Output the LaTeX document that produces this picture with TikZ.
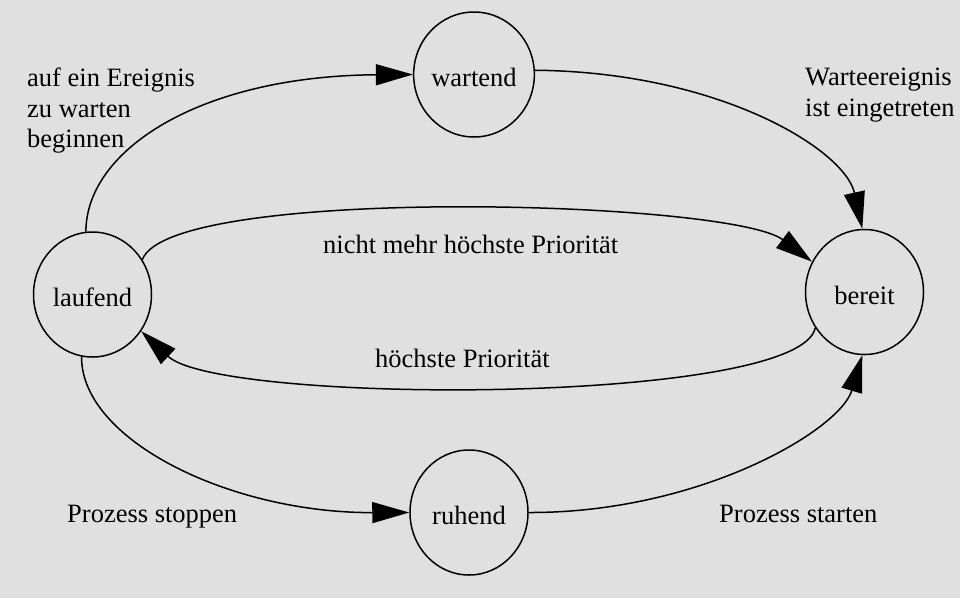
\documentclass[tikz,border=0pt]{standalone}
\usepackage{fontspec}
\setmainfont{Liberation Serif}
\usetikzlibrary{arrows.meta,shapes.geometric}
\definecolor{bg}{RGB}{224,224,224}
\begin{document}
\begin{tikzpicture}[x=1pt,y=-1pt,
  state/.style={ellipse, draw, line width=1.5pt, minimum width=118pt, minimum height=125pt,
    inner sep=0pt, text height=24pt, text depth=0pt, font=\fontsize{26.5}{30}\selectfont},
  edge/.style={line width=1.5pt, -{Triangle[length=37pt,width=21pt]}},
  lab/.style={inner sep=0pt, font=\fontsize{26.5}{30.5}\selectfont}]
\fill[bg] (0,0) rectangle (960,598);
\useasboundingbox (0,0) rectangle (960,598);

\node[state] (laufend) at (92.5,294.5) {laufend};
\node[state] (wartend) at (474,74.5) {wartend};
\node[state] (bereit) at (864.5,292) {bereit};
\node[state] (ruhend) at (469,512.5) {ruhend};

\draw[edge] (laufend.96) .. controls (86,150) and (200,76) .. (wartend.180);
\draw[edge] (wartend.4) .. controls (720,72) and (845,150) .. (bereit.92);
\draw[edge] (laufend.35) .. controls (170,185) and (730,200) .. (bereit.150);
\draw[edge] (bereit.216) .. controls (800,405) and (220,405) .. (laufend.-37);
\draw[edge] (laufend.-100) .. controls (81,440) and (230,513) .. (ruhend.180);
\draw[edge] (ruhend.0) .. controls (700,513) and (840,430) .. (bereit.268);

\node[lab, anchor=north west, align=left] (l1) at (27,68) {auf ein Ereignis\\zu warten\\beginnen};
\node[lab, anchor=north west, align=left] (l2) at (805,68.2) {Warteereignis\\ist eingetreten};
\node[lab, anchor=base west] (l3) at (323,253) {nicht mehr höchste Priorität};
\node[lab, anchor=base west] (l4) at (375,367) {höchste Priorität};
\node[lab, anchor=base west] (l5) at (67,522) {Prozess stoppen};
\node[lab, anchor=base west] (l6) at (719,522) {Prozess starten};
\end{tikzpicture}
\end{document}
